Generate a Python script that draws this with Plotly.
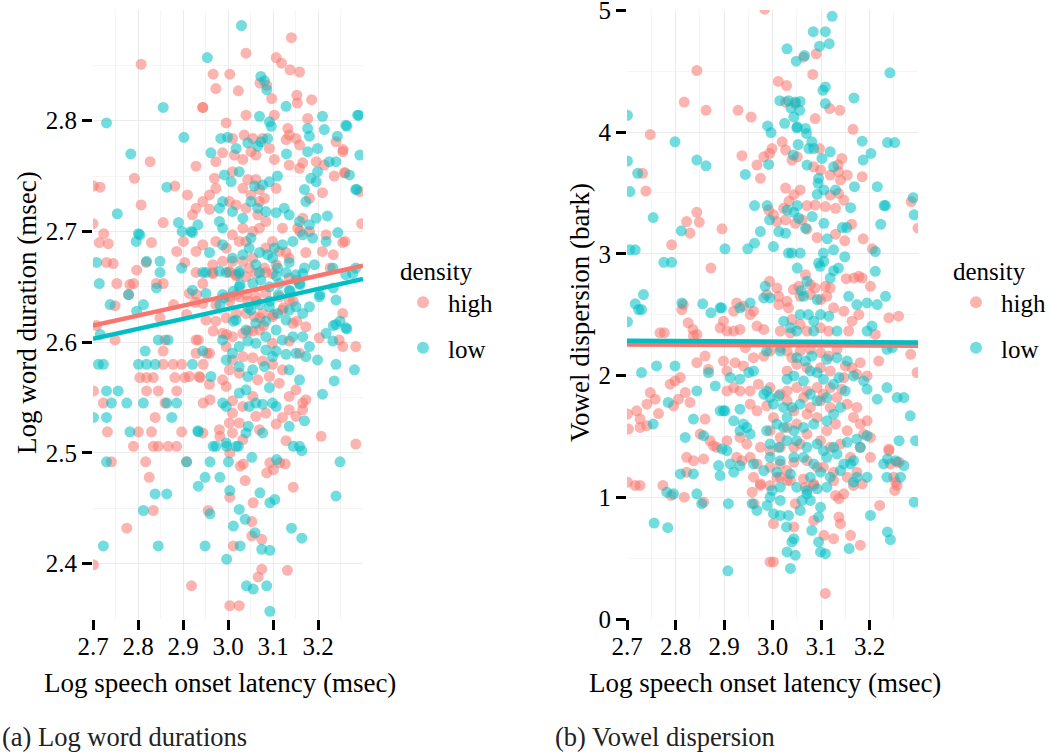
import plotly.graph_objects as go

RED = "#F8766D"
TEAL = "#00BFC4"
FONT = "Liberation Serif"

# ---------------- Panel (a): log word duration vs log speech onset latency
dur_high = [
(3.141,2.875),(3.040,2.861),(2.807,2.851),(3.107,2.857),(3.119,2.852),(3.138,2.846),(3.159,2.844),(2.967,2.842),(3.004,2.842),(3.023,2.827),
(2.973,2.829),(2.944,2.812),(3.071,2.834),(3.097,2.820),(3.086,2.832),(3.153,2.823),(3.154,2.816),(3.186,2.819),(2.910,2.733),(2.882,2.741),
(2.827,2.763),(2.792,2.748),(2.807,2.724),(2.701,2.741),(2.716,2.740),(2.700,2.707),(2.724,2.698),(2.714,2.690),(2.734,2.689),(2.745,2.671),
(2.730,2.672),(2.753,2.653),(2.790,2.653),(2.797,2.665),(2.818,2.672),(2.830,2.690),(2.841,2.653),(2.856,2.653),(2.856,2.708),(2.886,2.682),
(2.901,2.691),(2.904,2.672),(3.297,2.707),(3.293,2.736),(3.260,2.691),(3.256,2.774),(3.260,2.753),(2.930,2.643),(2.927,2.636),(2.908,2.625),
(2.879,2.634),(2.849,2.622),(2.782,2.652),(2.749,2.633),(2.708,2.615),(2.967,2.610),(2.997,2.607),(3.045,2.610),(3.079,2.615),(3.145,2.637),
(3.153,2.619),(3.123,2.631),(3.101,2.625),(3.071,2.622),(3.064,2.637),(3.041,2.643),(3.019,2.643),(3.004,2.637),(3.234,2.679),(3.227,2.667),
(3.160,2.700),(2.779,2.643),
(2.944,2.812),(3.040,2.805),(3.103,2.805),(3.177,2.802),(2.996,2.798),(3.036,2.787),(3.010,2.784),(3.055,2.784),(3.077,2.784),(3.133,2.793),
(3.129,2.783),(3.151,2.784),(3.159,2.778),(3.136,2.787),(3.240,2.781),(3.255,2.772),(2.929,2.759),(2.973,2.763),(2.988,2.771),(3.014,2.769),
(3.033,2.765),(3.051,2.772),(3.062,2.769),(3.092,2.775),(3.103,2.765),(3.136,2.760),(3.159,2.757),(3.166,2.762),(3.196,2.763),(3.214,2.760),
(3.236,2.750),(3.259,2.753),(2.970,2.748),(2.973,2.739),(3.010,2.754),(3.033,2.739),(3.044,2.747),(3.062,2.747),(3.070,2.738),(3.051,2.733),
(3.081,2.730),(3.107,2.739),(3.210,2.735),(3.181,2.730),(2.959,2.733),(2.944,2.727),(2.929,2.721),(2.959,2.720),(3.003,2.727),(3.018,2.724),
(3.040,2.721),(3.070,2.727),(3.084,2.709),(3.070,2.703),(3.055,2.700),(3.033,2.703),(3.010,2.697),(3.025,2.691),(3.040,2.691),(3.066,2.715),
(3.166,2.712),(3.121,2.703),(3.155,2.703),(3.181,2.700),(3.218,2.697),(3.255,2.690),(2.921,2.715),(2.929,2.682),(2.944,2.688),(2.973,2.691),
(2.996,2.685),(3.010,2.673),(2.988,2.673),(2.966,2.670),(3.003,2.664),(3.033,2.673),(3.055,2.676),(3.084,2.685),(3.099,2.691),(3.114,2.682),
(3.129,2.681),(3.136,2.676),(3.107,2.670),(3.081,2.667),(3.047,2.667),(3.018,2.661),(3.173,2.681),(3.210,2.682),(3.084,2.663),(2.966,2.663),
(2.701,2.556),(2.723,2.545),(2.732,2.519),(2.741,2.492),(2.701,2.399),(2.775,2.432),(2.749,2.602),(2.804,2.568),(2.819,2.568),(2.834,2.568),
(2.819,2.556),(2.845,2.556),(2.838,2.532),(2.830,2.519),(2.790,2.506),(2.834,2.506),(2.845,2.506),(2.801,2.519),(2.817,2.492),(2.825,2.478),
(2.834,2.448),(2.856,2.592),(2.856,2.580),(2.878,2.580),(2.897,2.580),(2.860,2.602),(2.867,2.506),(2.886,2.506),(2.860,2.545),(2.886,2.556),
(2.882,2.568),(2.904,2.568),(2.897,2.519),(2.908,2.492),(2.919,2.380),(2.938,2.568),(2.934,2.602),(2.945,2.580),(2.953,2.590),(2.956,2.448),
(2.945,2.545),(2.960,2.548),(2.982,2.515),(3.004,2.500),(3.004,2.460),(3.012,2.416),(3.004,2.362),(3.025,2.362),(3.034,2.490),(3.038,2.475),
(3.056,2.455),(3.053,2.438),(3.053,2.425),(3.075,2.422),(3.075,2.395),(3.067,2.388),(3.086,2.482),(3.093,2.491),(3.101,2.485),(3.115,2.491),
(3.127,2.490),(3.132,2.394),(3.145,2.469),(3.027,2.488),
(2.929,2.663),(2.966,2.662),(3.003,2.663),(3.018,2.660),(3.040,2.659),(3.062,2.662),(3.099,2.662),(3.151,2.656),(2.914,2.644),(2.944,2.635),
(2.973,2.634),(3.003,2.641),(3.025,2.641),(3.044,2.637),(3.062,2.641),(3.084,2.644),(3.114,2.641),(3.136,2.638),(3.255,2.626),(2.951,2.620),
(2.973,2.619),(2.996,2.622),(3.018,2.626),(3.040,2.626),(3.059,2.623),(3.077,2.626),(3.099,2.623),(3.121,2.629),(3.144,2.617),(3.173,2.614),
(2.988,2.608),(3.010,2.605),(3.033,2.608),(3.055,2.610),(3.070,2.611),(3.099,2.599),(3.136,2.601),(3.159,2.590),(2.929,2.602),(2.959,2.590),
(2.929,2.590),(2.996,2.596),(3.010,2.584),(3.033,2.587),(3.055,2.586),(3.077,2.583),(3.099,2.580),(3.121,2.575),(3.025,2.572),(3.003,2.575),
(2.988,2.566),(2.936,2.569),(2.959,2.562),(2.914,2.569),(2.996,2.560),(3.010,2.547),(3.033,2.542),(3.055,2.551),(3.066,2.566),(3.092,2.569),
(3.114,2.563),(3.136,2.551),(3.151,2.557),(3.166,2.545),(3.136,2.539),(3.121,2.532),(3.151,2.533),(3.166,2.539),(3.173,2.548),(3.010,2.536),
(3.025,2.527),(3.003,2.527),(2.981,2.521),(3.010,2.518),(3.033,2.512),(3.062,2.533),(3.084,2.536),(3.070,2.521),(3.107,2.526),(3.129,2.511),
(3.207,2.515),(3.284,2.508),(2.944,2.518),(3.247,2.602),(3.255,2.596),(3.284,2.596),(3.203,2.604),(3.136,2.658),(2.944,2.653),
]

dur_low = [
(3.030,2.886),(2.954,2.857),(2.856,2.812),(2.730,2.798),(2.902,2.785),(2.784,2.770),(2.864,2.740),(2.754,2.716),(2.708,2.672),(2.714,2.653),
(2.796,2.691),(2.801,2.698),(2.890,2.708),(2.898,2.700),(2.918,2.700),(3.073,2.840),(3.081,2.836),(3.086,2.828),(3.027,2.652),(3.012,2.646),
(2.991,2.640),(2.982,2.634),(3.012,2.619),(3.045,2.631),(3.093,2.637),(3.112,2.643),(3.138,2.646),(3.160,2.652),(3.204,2.643),(3.234,2.649),
(3.249,2.619),(3.264,2.612),(3.234,2.615),(2.841,2.649),(2.812,2.634),(2.849,2.673),(2.819,2.673),(2.849,2.663),(2.804,2.697),(2.897,2.667),
(2.738,2.634),(2.797,2.628),(2.716,2.607),(2.779,2.643),
(3.070,2.804),(3.092,2.799),(3.096,2.795),(3.129,2.813),(3.210,2.804),(3.214,2.792),(3.177,2.793),(3.181,2.786),(3.262,2.796),(3.288,2.805),
(2.962,2.771),(2.984,2.784),(2.999,2.785),(3.018,2.775),(3.044,2.780),(3.066,2.777),(3.073,2.781),(3.088,2.784),(3.130,2.770),(3.177,2.772),
(3.199,2.775),(3.225,2.763),(3.240,2.763),(3.270,2.751),(3.284,2.738),(3.170,2.738),(3.173,2.727),(3.184,2.748),(3.196,2.745),(3.199,2.754),
(3.110,2.750),(3.092,2.745),(3.077,2.742),(3.059,2.741),(3.025,2.754),(3.007,2.745),(2.992,2.751),(2.988,2.727),(2.981,2.721),(2.981,2.709),
(2.988,2.703),(3.010,2.718),(3.033,2.712),(3.051,2.727),(3.066,2.721),(3.084,2.718),(3.107,2.717),(3.125,2.721),(3.136,2.715),(3.159,2.709),
(3.181,2.706),(3.196,2.712),(3.221,2.714),(3.244,2.699),(3.218,2.691),(3.188,2.694),(3.166,2.697),(3.144,2.691),(3.121,2.688),(3.103,2.685),
(3.088,2.679),(3.070,2.681),(3.051,2.694),(3.047,2.685),(3.033,2.679),(3.010,2.676),(2.988,2.688),(2.959,2.681),(2.951,2.663),(2.981,2.664),
(3.025,2.664),(3.062,2.670),(3.099,2.676),(3.110,2.667),(3.136,2.672),(3.151,2.661),(3.170,2.667),(3.192,2.670),(3.233,2.667),(3.262,2.661),
(3.284,2.667),(2.921,2.699),(2.933,2.706),(3.293,2.769),(3.286,2.738),(3.291,2.805),(3.264,2.795),(3.243,2.786),
(2.712,2.580),(2.723,2.580),(2.730,2.556),(2.756,2.556),(2.741,2.545),(2.730,2.532),(2.701,2.532),(2.775,2.545),(2.812,2.545),(2.801,2.580),
(2.819,2.580),(2.838,2.580),(2.816,2.592),(2.845,2.602),(2.867,2.602),(2.864,2.545),(2.886,2.545),(2.875,2.532),(2.782,2.519),(2.730,2.492),
(2.908,2.492),(2.838,2.463),(2.864,2.463),(2.812,2.448),(2.723,2.416),(2.845,2.416),(2.949,2.416),(2.934,2.519),(2.934,2.470),(2.949,2.478),
(2.960,2.445),(2.960,2.492),(2.967,2.506),(2.982,2.478),(2.997,2.506),(3.001,2.492),(3.004,2.466),(3.012,2.434),(2.997,2.404),(3.025,2.449),
(3.027,2.416),(3.023,2.506),(3.038,2.440),(3.041,2.380),(3.056,2.377),(3.053,2.496),(3.045,2.524),(3.071,2.464),(3.075,2.413),(3.086,2.380),
(3.093,2.412),(3.093,2.357),(3.093,2.455),(3.104,2.458),(3.108,2.494),(3.145,2.506),(3.141,2.432),(3.164,2.423),(3.164,2.502),(3.249,2.492),
(3.240,2.461),(3.060,2.428),
(2.944,2.663),(2.996,2.663),(3.025,2.662),(3.070,2.663),(3.107,2.660),(3.129,2.663),(3.166,2.662),(2.921,2.647),(2.951,2.644),(2.988,2.643),
(3.025,2.650),(3.055,2.653),(3.073,2.656),(3.092,2.650),(3.114,2.653),(3.136,2.647),(3.159,2.653),(3.203,2.641),(3.240,2.638),(3.277,2.662),
(3.051,2.629),(3.070,2.634),(3.092,2.632),(3.110,2.626),(3.136,2.629),(3.151,2.632),(3.166,2.626),(3.181,2.632),(3.129,2.620),(3.084,2.619),
(3.062,2.617),(3.018,2.620),(3.040,2.611),(3.084,2.605),(3.107,2.611),(3.121,2.602),(3.144,2.605),(3.166,2.605),(3.181,2.596),(3.173,2.587),
(3.151,2.590),(3.129,2.589),(3.107,2.592),(3.084,2.593),(3.062,2.599),(3.044,2.601),(3.025,2.596),(3.010,2.590),(2.996,2.584),(2.988,2.602),
(2.944,2.592),(2.921,2.580),(2.962,2.569),(3.025,2.578),(3.044,2.569),(3.055,2.575),(3.081,2.578),(3.099,2.587),(3.136,2.575),(3.218,2.608),
(3.240,2.616),(3.262,2.613),(3.233,2.601),(3.240,2.580),(3.281,2.575),(3.236,2.565),(3.199,2.584),(2.988,2.545),(3.025,2.554),(3.040,2.557),
(3.047,2.542),(3.062,2.545),(3.077,2.544),(3.099,2.545),(3.107,2.542),(3.092,2.559),(3.159,2.566),(3.170,2.529),(3.210,2.553),(2.996,2.542),
(3.040,2.518),(3.077,2.518),(2.933,2.520),(2.973,2.506),(2.996,2.509),(3.018,2.506),(3.159,2.506),(3.136,2.524),
]

# fitted lines
fit_x = [2.7, 3.3]
dur_fit_high = [2.615, 2.669]
dur_fit_low = [2.603, 2.657]

# ---------------- Panel (b): vowel dispersion vs log speech onset latency
vow_high = [
(2.984,5.010),(2.844,4.506),(2.818,4.247),(2.863,4.179),(2.929,4.179),(2.956,4.124),(2.748,3.980),(2.732,3.661),(2.739,3.516),(2.937,3.806),
(2.968,3.729),(2.975,3.620),(2.982,3.797),(2.994,3.825),(2.999,3.865),(3.012,4.416),(3.029,4.382),(3.027,4.247),(3.047,4.234),(3.020,3.920),
(3.027,3.852),(3.040,3.770),(3.051,3.797),(3.064,4.615),(3.090,4.643),(3.083,4.474),(3.088,4.111),(3.097,3.865),(3.118,4.193),(3.139,4.179),
(3.166,4.023),(3.085,3.715),(3.099,3.688),(3.119,3.647),(3.136,3.675),(3.143,3.784),(3.135,3.731),(3.140,3.606),(3.119,3.483),(3.136,3.497),
(3.147,3.442),(3.130,3.374),(3.154,3.647),(3.185,3.634),(3.027,3.540),(3.044,3.486),(3.057,3.525),(3.034,3.432),(3.023,3.374),(3.002,3.320),
(2.992,3.360),(3.009,3.265),(3.027,3.279),(3.047,3.251),(3.061,3.279),(3.071,3.396),(3.088,3.401),(3.109,3.388),(3.071,3.202),(3.092,3.134),
(3.130,3.161),(3.149,3.107),(3.163,3.243),(3.187,3.123),(3.206,3.041),(3.286,3.429),(3.300,3.211),(2.844,3.341),(2.849,3.260),(2.830,3.170),
(2.823,3.265),(2.792,3.074),(2.896,3.205),(2.873,2.883),(2.816,2.583),(2.813,2.542),(2.826,2.433),(2.836,2.379),(2.844,2.338),
(2.768,2.351),(2.994,2.774),(3.009,2.720),(3.054,2.733),(3.043,2.706),
(3.068,2.829),(3.078,2.747),(3.088,2.720),(3.109,2.733),(3.119,2.720),(3.152,2.796),(3.168,2.801),(3.178,2.815),
(3.185,2.801),(3.202,2.733),
(2.701,1.684),(2.703,1.560),(2.720,1.710),(2.727,1.642),(2.741,1.765),(2.748,1.860),(2.758,1.806),(2.765,1.688),(2.727,1.574),(2.741,1.588),
(2.701,1.124),(2.717,1.097),(2.727,1.097),(2.777,2.351),(2.789,1.929),(2.799,1.956),(2.810,1.983),(2.806,1.806),(2.820,1.860),(2.830,1.779),
(2.796,1.751),(2.837,2.324),(2.844,2.106),(2.861,2.160),(2.868,2.051),(2.823,1.328),(2.837,1.301),(2.823,1.206),(2.858,1.315),(2.861,1.642),
(2.851,1.519),(2.871,1.465),(2.878,1.424),(2.885,1.410),(2.774,1.097),(2.791,1.015),(2.818,1.001),(2.858,0.960),
(2.958,1.042),(2.962,0.947),(2.975,1.097),(2.995,1.097),(3.002,0.783),(2.995,0.469),(3.002,0.469),(3.016,1.165),(3.030,1.138),(3.044,0.756),
(3.047,0.947),(3.068,1.083),(3.085,1.097),(3.085,0.810),(3.106,0.687),(3.126,0.660),(3.109,0.210),(3.137,0.837),(3.140,0.783),(3.161,0.687),
(3.181,0.606),(3.137,0.988),(3.130,1.015),(3.147,1.028),(3.185,1.110),(3.221,0.933),(3.252,1.056),(3.254,1.124),(3.261,1.288),(3.240,1.397),
(3.298,2.024),(3.285,2.174),
(2.926,2.597),(2.920,2.529),(2.954,2.501),(2.961,2.529),(2.940,2.569),(2.899,2.447),(2.892,2.392),(2.906,2.365),(2.920,2.365),(2.933,2.379),
(2.968,2.406),(2.982,2.379),(2.988,2.665),(3.013,2.651),(3.030,2.610),(3.013,2.583),(3.033,2.556),(3.057,2.651),(3.078,2.665),(3.099,2.624),
(3.112,2.651),(3.126,2.556),(3.147,2.529),(3.164,2.447),(3.178,2.501),(3.157,2.365),(3.040,2.460),(3.057,2.420),(3.016,2.365),(3.037,2.351),
(3.099,2.392),(3.116,2.365),(3.071,2.365),(3.240,2.474),(3.260,2.488),(3.212,2.338),
(2.899,2.119),(2.906,2.038),(2.923,2.106),(2.940,2.079),(2.961,2.147),(2.982,2.160),(2.995,2.201),(2.944,2.229),(3.016,2.229),(3.030,2.201),
(3.040,2.147),(3.057,2.201),(3.078,2.215),(3.099,2.188),(3.116,2.160),(3.133,2.215),(3.150,2.079),(3.164,2.065),(3.181,2.106),(3.195,1.997),
(3.174,2.010),(3.219,2.119),(2.906,1.874),(2.920,1.901),(2.933,1.874),(2.954,1.874),(2.971,1.929),(2.995,1.901),(3.030,2.038),(3.016,1.847),
(3.030,1.874),(3.050,1.901),(3.071,1.874),(3.092,1.901),(3.105,1.847),(3.119,1.901),(3.143,1.888),(3.147,1.983),(3.119,2.038),(3.099,2.065),
(3.071,2.065),(3.050,2.092),(2.954,1.765),(2.968,1.710),(2.988,1.751),(3.002,1.656),(3.030,1.792),(3.044,1.710),(3.064,1.819),(3.078,1.738),
(3.099,1.792),(3.119,1.738),(3.133,1.819),(3.154,1.765),(3.174,1.738),(3.167,1.656),(3.195,1.628),(2.995,1.547),(3.016,1.492),(3.030,1.574),
(3.050,1.601),(3.071,1.683),(3.092,1.656),(3.112,1.547),(3.130,1.601),(3.154,1.547),(3.181,1.601),(3.188,1.519),(2.933,1.492),(2.947,1.438),
(2.975,1.410),(2.995,1.383),(3.016,1.410),(3.044,1.410),(3.057,1.438),(3.071,1.519),(3.099,1.465),(3.119,1.410),(3.140,1.438),(3.161,1.328),
(3.181,1.410),(3.202,1.492),(3.243,1.274),(3.257,1.288),(2.906,1.465),(2.926,1.328),(2.937,1.301),(2.954,1.328),(2.968,1.274),(2.995,1.247),
(3.016,1.274),(3.030,1.219),(3.044,1.288),(3.071,1.301),(3.092,1.247),(3.105,1.247),(3.126,1.206),(3.154,1.165),(3.174,1.206),(3.202,1.328),
(3.240,1.383),(2.961,1.165),(2.975,1.110),(3.009,1.165),(3.037,1.137),(3.064,1.151),(3.085,1.110),(3.126,1.137),(3.167,1.097),(3.250,1.165),
(3.257,1.097),
]

vow_low = [
(2.701,4.138),(2.701,3.762),(2.706,3.511),(2.722,3.661),(2.706,3.033),(2.717,3.033),(2.754,3.298),(2.776,2.930),(2.792,2.930),(2.799,3.920),
(2.812,3.189),(2.844,3.770),(2.863,3.723),(2.902,3.041),(2.856,2.589),(2.813,2.597),(2.892,2.556),(2.873,2.515),(2.701,2.441),(2.734,2.665),
(2.717,2.589),(2.724,2.542),(2.730,2.542),(2.944,3.652),(2.949,3.041),(2.963,3.396),(2.963,3.087),(2.975,3.183),
(2.990,4.051),(2.997,3.996),(2.992,3.734),(2.989,3.396),(2.994,3.279),(3.002,3.060),(2.985,2.733),
(3.015,4.258),(3.030,4.684),(3.025,4.072),(3.033,4.258),(3.038,4.198),(3.044,4.124),(3.047,4.247),(3.057,4.252),(3.051,4.043),(3.056,4.179),
(3.049,4.583),(3.066,4.629),(3.084,4.825),(3.097,4.706),(3.109,4.825),(3.123,4.951),(3.117,4.726),(3.109,4.371),(3.104,4.343),(3.109,4.234),
(3.050,4.035),(3.068,4.030),(3.070,3.989),(3.081,3.920),(3.053,3.898),(3.043,3.811),(3.071,3.729),(3.075,3.865),(3.085,3.865),(3.102,3.784),
(3.119,3.838),(3.126,3.715),(3.094,3.579),(3.106,3.525),(3.092,3.489),(3.095,3.620),(3.130,3.525),(3.168,4.280),(3.185,3.925),(3.187,3.770),
(3.203,3.825),(3.169,3.552),(3.216,3.552),(3.230,3.396),(3.233,3.396),(3.242,4.487),(3.237,3.914),(3.252,3.914),(3.290,3.461),(3.292,3.320),
(3.223,3.243),(3.212,3.019),(3.212,2.856),(3.161,3.379),(3.144,3.216),(3.153,3.216),(3.149,2.976),
(3.126,3.033),(3.136,2.883),(3.126,2.861),(3.119,2.801),(3.113,3.123),(3.105,3.006),(3.106,2.938),(3.098,2.897),(3.095,2.925),(3.106,3.251),
(3.082,3.306),(3.068,3.211),(3.054,3.292),(3.044,3.341),(3.051,3.396),(3.030,3.360),(3.027,3.169),(3.013,3.183),(3.033,3.006),(3.040,3.006),
(3.057,3.006),(3.051,2.883),(3.071,2.774),(3.059,2.698),
(2.730,2.024),(2.761,2.079),(2.754,1.601),(2.756,0.788),(2.784,0.750),(2.782,1.042),(2.796,1.028),(2.785,1.779),(2.799,2.079),(2.820,1.492),
(2.810,1.192),(2.837,1.192),(2.844,1.028),(2.854,0.947),(2.837,1.642),(2.858,1.506),(2.844,1.874),(2.868,2.024),(2.889,1.260),(2.892,1.178),
(2.896,1.397),(2.909,0.947),(2.908,0.396),(2.882,1.915),(2.892,1.710),(2.902,1.710),
(2.958,0.947),(2.968,0.892),(2.989,0.933),(2.995,1.001),(3.002,0.865),(3.016,0.851),(3.016,0.974),(3.029,0.756),(3.033,0.851),(3.044,0.660),
(3.040,0.633),(3.030,0.551),(3.047,0.524),(3.037,0.415),(3.057,0.892),(3.061,0.974),(3.071,1.028),(3.078,0.974),(3.081,0.728),(3.095,0.633),
(3.099,0.551),(3.109,0.537),(3.099,0.919),(3.095,0.837),(3.158,0.579),(3.202,0.851),(3.237,0.715),(3.243,0.652),(3.292,0.960),(3.264,1.165),
(3.271,1.260),(3.237,1.315),(3.295,1.465),(3.261,1.465),
(2.895,2.556),(2.933,2.556),(2.954,2.597),(2.982,2.638),(2.995,2.638),(3.064,2.651),(3.092,2.624),(3.157,2.651),(3.174,2.583),(3.195,2.597),
(3.216,2.583),(3.233,2.651),(3.074,2.501),(3.085,2.447),(3.099,2.501),(3.116,2.488),(3.057,2.501),(3.023,2.447),(3.037,2.392),(3.050,2.365),
(3.085,2.365),(3.133,2.365),(3.195,2.365),(3.205,2.406),(3.247,2.229),(3.236,2.215),(3.016,2.201),(2.988,2.201),(3.050,2.147),(3.068,2.119),
(3.081,2.160),(3.112,2.133),(3.133,2.147),(3.154,2.119),(3.167,1.997),(3.188,1.956),(2.913,1.983),(2.933,1.970),(2.951,2.024),(2.961,2.038),
(2.988,1.874),(3.013,1.833),(3.030,1.970),(3.044,1.997),(3.064,1.956),(3.078,2.038),(3.092,2.024),(3.105,1.970),(3.126,1.929),(3.137,1.983),
(3.150,1.874),(3.195,1.888),(3.236,1.901),(3.257,1.819),(3.271,1.819),(3.284,1.669),(3.216,1.806),
(2.982,1.847),(2.995,1.819),(3.002,1.765),(3.023,1.738),(3.030,1.656),(3.040,1.738),(3.057,1.765),(3.078,1.847),(3.092,1.792),(3.112,1.819),
(3.126,1.683),(3.140,1.738),(3.112,1.628),(3.085,1.601),(3.064,1.574),(3.044,1.547),(3.023,1.574),(3.009,1.601),(2.988,1.547),(2.933,1.724),
(2.899,1.710),(2.920,1.628),(2.940,1.601),(2.933,1.547),(2.954,1.519),(2.947,1.574),(2.995,1.438),(3.013,1.410),(3.030,1.465),(3.050,1.465),
(3.071,1.410),(3.092,1.438),(3.105,1.383),(3.126,1.410),(3.133,1.356),(3.154,1.451),(3.174,1.478),(3.195,1.506),(3.167,1.301),(2.906,1.383),
(2.913,1.274),(2.920,1.206),(2.933,1.260),(2.995,1.328),(3.016,1.301),(3.044,1.328),(3.064,1.328),(3.085,1.274),(3.112,1.328),(3.147,1.274),
(3.181,1.410),(2.961,1.274),(2.982,1.219),(3.009,1.206),(3.037,1.192),(3.078,1.165),(3.099,1.206),(3.119,1.165),(3.140,1.219),(3.161,1.274),
(3.174,1.165),(3.195,1.165),(3.229,1.274),(3.254,1.301),(2.999,1.056),(3.016,1.083),(3.050,1.083),(3.071,1.056),(3.092,1.069),(3.112,1.083),
(3.167,1.124),(3.236,1.165),
]

vow_fit_high = [2.255, 2.245]
vow_fit_low = [2.285, 2.272]

x_ticks = [2.7, 2.8, 2.9, 3.0, 3.1, 3.2]
x_labels = ["2.7", "2.8", "2.9", "3.0", "3.1", "3.2"]
dur_ticks = [2.4, 2.5, 2.6, 2.7, 2.8]
dur_labels = ["2.4", "2.5", "2.6", "2.7", "2.8"]
vow_ticks = [0, 1, 2, 3, 4, 5]
vow_labels = ["0", "1", "2", "3", "4", "5"]


def unzip(pts):
    return [p[0] for p in pts], [p[1] for p in pts]


fig = go.Figure()

pt_style = dict(size=11, opacity=0.55, line=dict(width=0))

for name, pts, col in [("high", dur_high, RED), ("low", dur_low, TEAL)]:
    xs, ys = unzip(pts)
    fig.add_trace(go.Scatter(x=xs, y=ys, mode="markers", name=name,
                             marker=dict(color=col, **pt_style),
                             xaxis="x", yaxis="y", legend="legend",
                             legendgroup="a" + name))
for name, ys, col in [("high", dur_fit_high, RED), ("low", dur_fit_low, TEAL)]:
    fig.add_trace(go.Scatter(x=fit_x, y=ys, mode="lines", showlegend=False,
                             line=dict(color=col, width=4.5),
                             xaxis="x", yaxis="y"))

for name, pts, col in [("high", vow_high, RED), ("low", vow_low, TEAL)]:
    xs, ys = unzip(pts)
    fig.add_trace(go.Scatter(x=xs, y=ys, mode="markers", name=name,
                             marker=dict(color=col, **pt_style),
                             xaxis="x2", yaxis="y2", legend="legend2",
                             legendgroup="b" + name))
for name, ys, col in [("high", vow_fit_high, RED), ("low", vow_fit_low, TEAL)]:
    fig.add_trace(go.Scatter(x=fit_x, y=ys, mode="lines", showlegend=False,
                             line=dict(color=col, width=4.5),
                             xaxis="x2", yaxis="y2"))

W, H = 1050, 753
px = lambda v: v / W
py = lambda v: (H - v) / H

tickfont = dict(family=FONT, size=25, color="black")
common = dict(showgrid=True, gridcolor="#EBEBEB", gridwidth=1.2, zeroline=False,
              showline=False, ticks="outside", ticklen=10, tickwidth=3,
              tickcolor="black", tickfont=tickfont, fixedrange=True, automargin=False,
              ticklabeloverflow="allow")

leg_font = dict(family=FONT, size=25, color="black")
leg_common = dict(title=dict(text="density", font=leg_font), font=leg_font,
                  xanchor="left", yanchor="top", bgcolor="rgba(0,0,0,0)",
                  itemsizing="constant", itemwidth=40, tracegroupgap=10)

fig.update_layout(
    width=W, height=H,
    font=dict(family=FONT, size=25, color="black"),
    margin=dict(l=0, r=0, t=0, b=0, autoexpand=False),
    paper_bgcolor="white", plot_bgcolor="white",
    showlegend=True,
    xaxis=dict(domain=[px(93), px(363)], range=[2.7, 3.3], anchor="y",
               tickvals=x_ticks, ticktext=x_labels, ticklabelstandoff=-5,
               minor=dict(dtick=0.05, tick0=2.7, showgrid=True, gridcolor="#F5F5F5", gridwidth=1),
               **common),
    yaxis=dict(domain=[py(619), py(10)], range=[2.35, 2.9], anchor="x",
               tickvals=dur_ticks, ticktext=dur_labels,
               minor=dict(dtick=0.05, tick0=2.35, showgrid=True, gridcolor="#F5F5F5", gridwidth=1),
               **common),
    xaxis2=dict(domain=[px(627), px(918)], range=[2.7, 3.3], anchor="y2",
                tickvals=x_ticks, ticktext=x_labels, ticklabelstandoff=-5,
                minor=dict(dtick=0.05, tick0=2.7, showgrid=True, gridcolor="#F5F5F5", gridwidth=1),
                **common),
    yaxis2=dict(domain=[py(619), py(10)], range=[0, 5.003], anchor="x2",
                tickvals=vow_ticks, ticktext=vow_labels,
                minor=dict(dtick=0.5, tick0=0, showgrid=True, gridcolor="#F5F5F5", gridwidth=1),
                **common),
    legend=dict(x=px(398), y=py(247), **leg_common),
    legend2=dict(x=px(951), y=py(247), **leg_common),
)

ann_font = dict(family=FONT, size=27, color="black")
cap_font = dict(family=FONT, size=26.5, color="#222222")
annotations = [
    dict(text="Log speech onset latency (msec)", x=px(220), y=py(683), xref="paper", yref="paper",
         xanchor="center", yanchor="middle", showarrow=False, font=ann_font),
    dict(text="Log speech onset latency (msec)", x=px(765), y=py(683), xref="paper", yref="paper",
         xanchor="center", yanchor="middle", showarrow=False, font=ann_font),
    dict(text="Log word duration (msec)", x=px(27), y=py(313), xref="paper", yref="paper",
         xanchor="center", yanchor="middle", showarrow=False, textangle=-90, font=ann_font),
    dict(text="Vowel dispersion (bark)", x=px(580), y=py(313), xref="paper", yref="paper",
         xanchor="center", yanchor="middle", showarrow=False, textangle=-90, font=ann_font),
    dict(text="(a) Log word durations", x=0, y=py(737), xref="paper", yref="paper",
         xanchor="left", yanchor="middle", showarrow=False, font=cap_font),
    dict(text="(b) Vowel dispersion", x=px(553), y=py(737), xref="paper", yref="paper",
         xanchor="left", yanchor="middle", showarrow=False, font=cap_font),
]
fig.update_layout(annotations=annotations)

fig.write_html("out.html", config={"displayModeBar": False},
               post_script="document.body.style.margin='0px';")
